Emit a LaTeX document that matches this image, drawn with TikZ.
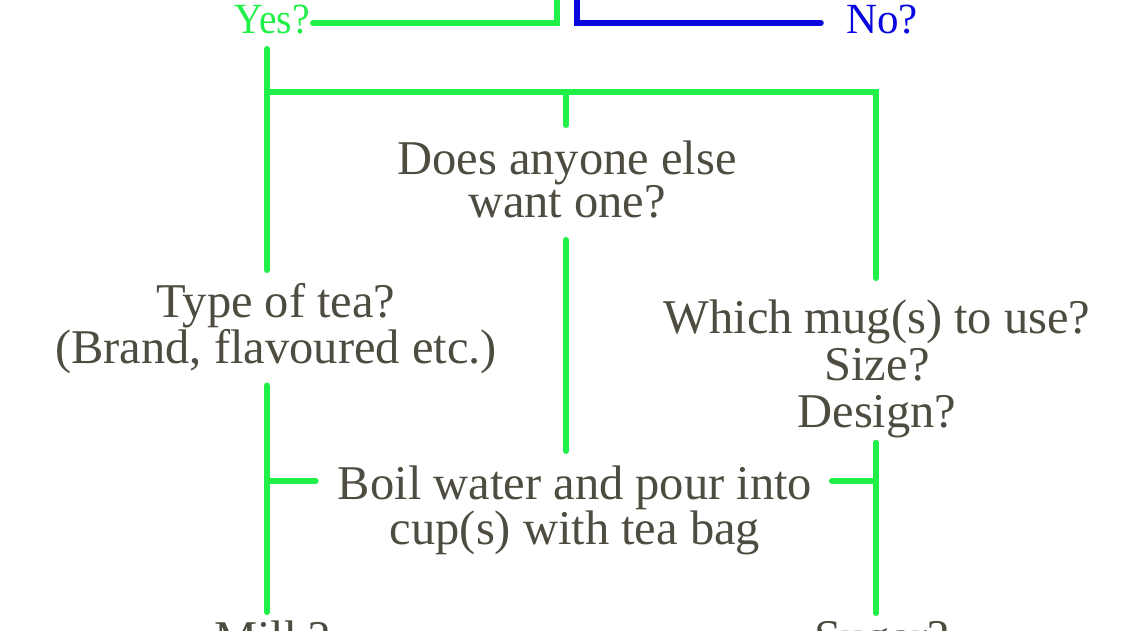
\documentclass[tikz,border=0pt]{standalone}
\usepackage{fontspec}
\setmainfont{Liberation Serif}
\usepackage{xcolor}
\usepackage{graphicx}
\usepackage{tikz}
\usetikzlibrary{positioning}
\definecolor{ink}{RGB}{78,76,64}
\definecolor{yesgreen}{RGB}{32,240,72}
\definecolor{noblue}{RGB}{8,8,222}

\begin{document}
\begin{tikzpicture}[x=0.02cm,y=-0.02cm,
        link/.style={line width=0.12cm, line cap=round, yesgreen},
        nolink/.style={line width=0.12cm, line cap=round, noblue},
        ask/.style={inner sep=0pt, anchor=north, align=center, text=ink,
            font=\fontsize{27.6pt}{25pt}\selectfont},
        answer/.style={inner sep=0pt, anchor=base,
            font=\fontsize{24.5pt}{28pt}\selectfont}]
        \useasboundingbox (0,0) rectangle (1131,630);

        \node[answer, text=yesgreen] (yes) at (272,33) {\scalebox{0.92}[1]{Yes?}};
        \node[answer, text=noblue] (no) at (882,33) {No?};
        \node[ask] (does) at (567,140) {Does anyone else\\want one?};
        \node[ask] (type) at (276,283) {Type of tea?\\(Brand, flavoured etc.)};
        \node[ask, font=\fontsize{27.6pt}{27pt}\selectfont] (which) at (877,299)
            {Which mug(s) to use?\\Size?\\Design?};
        \node[ask] (boil) at (575,465) {Boil water and pour into\\cup(s) with tea bag};
        \node[ask] (milk) at (272,620) {Milk?};
        \node[ask] (sugar) at (882,621) {Sugar?};

        \coordinate (ytop) at (557,0);
        \coordinate (yjoin) at (557,23);
        \coordinate (ntop) at (577,0);
        \coordinate (njoin) at (577,23);
        \coordinate (yfoot) at (267,49);
        \coordinate (lbar) at (267,92);
        \coordinate (mbar) at (566,92);
        \coordinate (rbar) at (876,92);
        \coordinate (ltick) at (267,481);
        \coordinate (rtick) at (876,481);

        % answers at the top
        \draw[link, shorten <=0.06cm] (yes.east |- yjoin) -- (yjoin) -- (ytop);
        \draw[nolink, shorten >=0.5cm] (ntop) -- (njoin) -- (no.west |- njoin);

        % yes branch
        \draw[link, shorten >=0.26cm] (yfoot) -- (yfoot |- type.north);
        \draw[link, shorten >=0.42cm] (lbar) -- (rbar) -- (rbar |- which.north);
        \draw[link, shorten >=0.3cm] (mbar) -- (mbar |- does.north);
        \draw[link, shorten <=0.42cm, shorten >=0.28cm] (mbar |- does.south) -- (mbar |- boil.north);
        \draw[link, shorten <=0.22cm, shorten >=0.16cm] (yfoot |- type.south) -- (yfoot |- milk.north);
        \draw[link, shorten <=0.08cm, shorten >=0.16cm] (rbar |- which.south) -- (rbar |- sugar.north);
        \draw[link, shorten >=0.44cm] (ltick) -- (ltick -| boil.west);
        \draw[link, shorten >=0.39cm] (rtick) -- (rtick -| boil.east);
\end{tikzpicture}
\end{document}
